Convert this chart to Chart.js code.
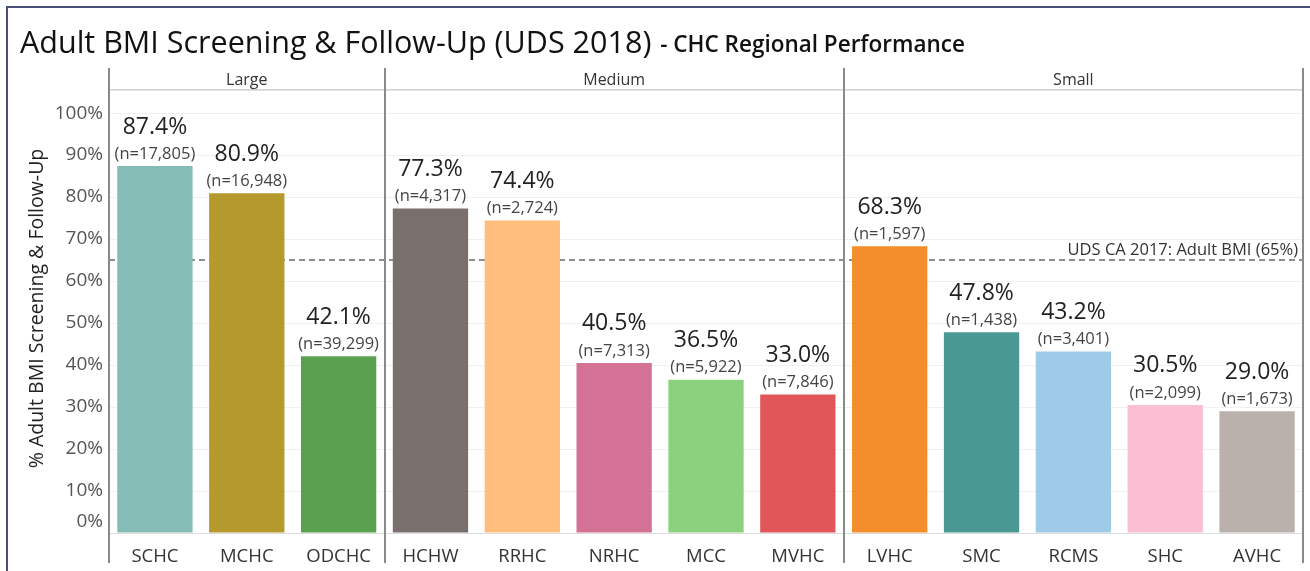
<!DOCTYPE html>
<html>
<head>
<meta charset="utf-8">
<script src="https://cdn.jsdelivr.net/npm/chart.js@4/dist/chart.umd.min.js"></script>
<style>
  html, body { margin: 0; padding: 0; background: #fff; }
  #wrap { position: relative; width: 1310px; height: 571px; }
</style>
</head>
<body>
<div id="wrap"><canvas id="bmiChart" width="1310" height="571"></canvas></div>
<script>
// data
const centers = ["SCHC","MCHC","ODCHC","HCHW","RRHC","NRHC","MCC","MVHC","LVHC","SMC","RCMS","SHC","AVHC"];
const rates = [87.4, 80.9, 42.1, 77.3, 74.4, 40.5, 36.5, 33.0, 68.3, 47.8, 43.2, 30.5, 29.0];
const counts = ["17,805","16,948","39,299","4,317","2,724","7,313","5,922","7,846","1,597","1,438","3,401","2,099","1,673"];
const groups = ["Large","Medium","Small"];
const groupSizes = [3, 5, 5];
const yTicks = [0, 10, 20, 30, 40, 50, 60, 70, 80, 90, 100];
const benchmark = 65;
const benchmarkLabel = "UDS CA 2017: Adult BMI (65%)";

const barColors = ["#86BCB6","#B6992D","#59A14F","#79706E","#FFBE7D","#D37295","#8CD17D",
  "#E15759","#F28E2B","#499894","#A0CBE8","#FABFD2","#BAB0AC"];

const FONT = "'Open Sans', 'Noto Sans', sans-serif";

// title, panels, benchmark, labels
const decorPlugin = {
  id: "decor",
  beforeDatasetsDraw(chart) {
    const { ctx, chartArea: a } = chart;
    // benchmark dashed line
    const y = chart.scales.y.getPixelForValue(benchmark);
    ctx.save();
    ctx.strokeStyle = "#6b6b6b";
    ctx.lineWidth = 1.5;
    ctx.setLineDash([6, 4]);
    ctx.beginPath();
    ctx.moveTo(a.left, y);
    ctx.lineTo(a.right, y);
    ctx.stroke();
    ctx.restore();
  },
  afterDatasetsDraw(chart) {
    const { ctx, chartArea: a } = chart;
    const xs = chart.scales.x, ys = chart.scales.y;
    ctx.save();

    // frame
    ctx.fillStyle = "#4b4f78";
    ctx.fillRect(6, 6, 1304, 2);
    ctx.fillRect(6, 6, 2, 565);

    // title
    ctx.fillStyle = "#111";
    ctx.textBaseline = "middle";
    ctx.textAlign = "left";
    ctx.font = "30.5px " + FONT;
    const t1 = "Adult BMI Screening & Follow-Up (UDS 2018)";
    ctx.fillText(t1, 20, 44);
    const w1 = ctx.measureText(t1).width;
    ctx.font = "600 22.5px " + FONT;
    ctx.fillText(" - CHC Regional Performance", 20 + w1 + 3, 46);

    // benchmark label
    const by = ys.getPixelForValue(benchmark);
    ctx.font = "16.5px " + FONT;
    ctx.fillStyle = "#333";
    ctx.textAlign = "right";
    ctx.textBaseline = "bottom";
    ctx.fillText(benchmarkLabel, a.right - 5, by - 2);

    // header band line
    ctx.fillStyle = "#d4d4d4";
    ctx.fillRect(a.left, a.top - 1, a.right - a.left, 1.5);

    // panel dividers + headers
    const bounds = [a.left];
    let idx = 0;
    groupSizes.forEach(n => {
      idx += n;
      if (idx < centers.length) {
        bounds.push((xs.getPixelForValue(idx - 1) + xs.getPixelForValue(idx)) / 2);
      } else {
        bounds.push(a.right);
      }
    });
    ctx.fillStyle = "#8a8a8a";
    bounds.forEach(bx => ctx.fillRect(Math.round(bx) - 1, 68, 2, 495));
    ctx.fillStyle = "#333";
    ctx.textAlign = "center";
    ctx.textBaseline = "middle";
    ctx.font = "16px " + FONT;
    groups.forEach((g, i) => {
      ctx.fillText(g, (bounds[i] + bounds[i + 1]) / 2, 80);
    });

    // y tick labels (Tableau nudges 0% up)
    ctx.textAlign = "right";
    ctx.font = "19px " + FONT;
    ctx.fillStyle = "#555";
    yTicks.forEach(v => {
      let py = ys.getPixelForValue(v);
      if (v === 0) py -= 11;
      ctx.fillText(v + "%", a.left - 6, py);
    });

    // y axis title
    ctx.save();
    ctx.translate(37, (a.top + a.bottom) / 2 - 3);
    ctx.rotate(-Math.PI / 2);
    ctx.textAlign = "center";
    ctx.fillStyle = "#222";
    ctx.font = "19.5px " + FONT;
    ctx.fillText("% Adult BMI Screening & Follow-Up", 0, 0);
    ctx.restore();

    // bar labels
    const meta = chart.getDatasetMeta(0);
    meta.data.forEach((bar, i) => {
      ctx.textAlign = "center";
      ctx.fillStyle = "#222";
      ctx.font = "23px " + FONT;
      ctx.fillText(rates[i].toFixed(1) + "%", bar.x, bar.y - 39);
      ctx.fillStyle = "#444";
      ctx.font = "16.5px " + FONT;
      ctx.fillText("(n=" + counts[i] + ")", bar.x, bar.y - 12);
    });
    ctx.restore();
  }
};

new Chart(document.getElementById("bmiChart").getContext("2d"), {
  type: "bar",
  data: {
    labels: centers,
    datasets: [{
      data: rates,
      backgroundColor: barColors,
      borderWidth: 0,
      barPercentage: 0.82,
      categoryPercentage: 1
    }]
  },
  options: {
    responsive: false,
    animation: false,
    devicePixelRatio: 1,
    layout: { padding: { top: 90, right: 7, left: 0, bottom: 0 } },
    plugins: { legend: { display: false }, tooltip: { enabled: false } },
    scales: {
      x: {
        grid: { display: false },
        border: { display: true, color: "#dcdcdc" },
        ticks: { color: "#333", font: { size: 18.5, family: FONT }, padding: 5, maxRotation: 0 },
        afterFit: s => { s.height = 38; }
      },
      y: {
        min: 0,
        max: 105.5,
        grid: { color: "#f0f0f0", drawTicks: false },
        border: { display: false },
        ticks: { display: false, stepSize: 10 },
        afterFit: s => { s.width = 109; }
      }
    }
  },
  plugins: [decorPlugin]
});
</script>
</body>
</html>
